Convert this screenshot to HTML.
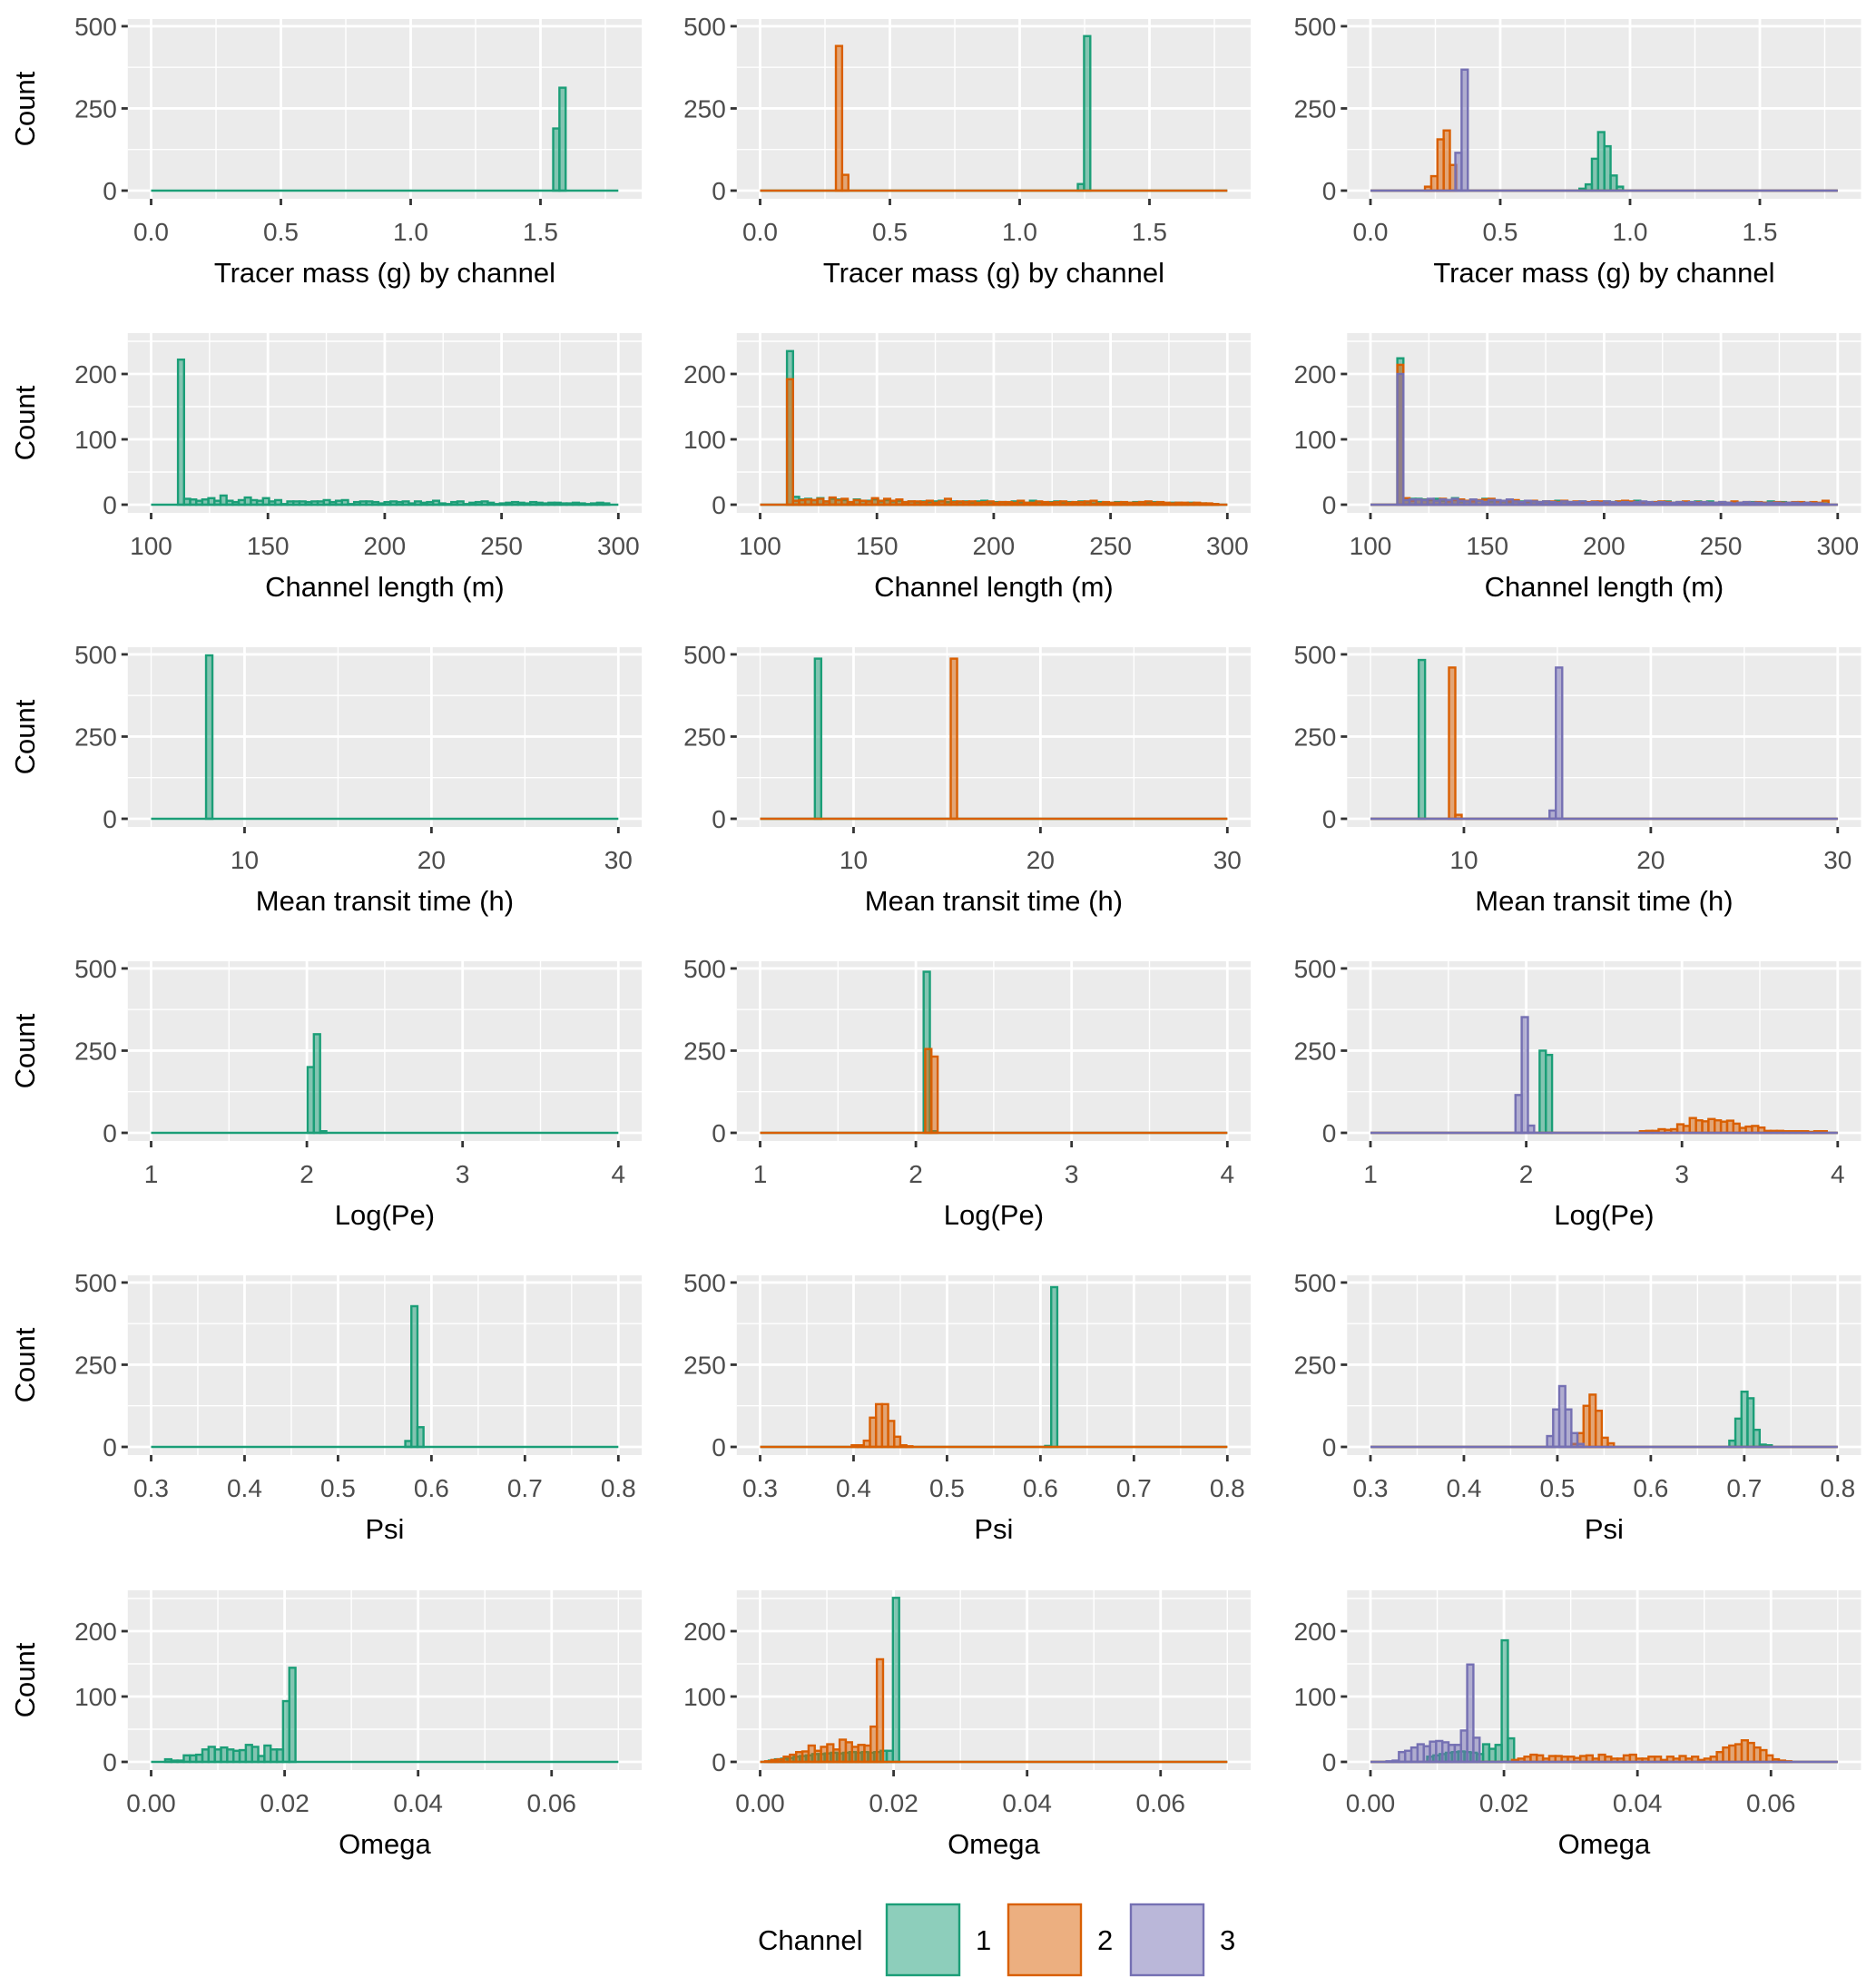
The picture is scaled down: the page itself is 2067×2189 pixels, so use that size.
<!DOCTYPE html>
<html><head><meta charset="utf-8"><style>
html,body{margin:0;padding:0;background:#fff;}
svg{display:block;font-family:"Liberation Sans",Arial,sans-serif;}
</style></head><body>
<svg id="fig" width="2067" height="2189" viewBox="0 0 2067 2189" xmlns="http://www.w3.org/2000/svg"></svg>
<script>
// ---- data (bin start, counts) ----
const massA1Start = 1.549; const massA1 = [189,313];
const massB1Start = 1.224; const massB1 = [20,470];
const massB2Start = 0.292; const massB2 = [440,48];
const massC1Start = 0.805; const massC1 = [6,19,97,178,135,46,12];
const massC2Start = 0.210; const massC2 = [12,44,156,183,78];
const massC3Start = 0.327; const massC3 = [115,368];

const lenA1Start = 111.5; const lenA1 = [222,9,8,6,8,10,6,14,6,4,7,11,7,6,10,5,7,1,5,5,5,4,5,5,7,4,6,7,1,4,5,5,4,2,4,5,4,5,2,5,3,4,6,2,1,4,5,1,3,4,5,3,1,2,3,4,3,2,4,3,2,3,3,2,2,3,2,1,2,3,2];
const lenB1Start = 111.5; const lenB1 = [235,12,8,9,7,10,5,9,8,7,4,8,6,6,8,5,7,5,6,4,5,4,5,4,5,6,4,5,4,5,3,5,6,3,4,4,3,5,3,3,6,4,3,4,5,3,4,3,5,4,2,4,3,3,4,3,3,4,4,3,4,3,2,3,3,2,3,2,2,1,1];
const lenB2Start = 111.5; const lenB2 = [192,6,7,8,7,9,5,11,7,9,4,7,6,5,10,6,9,6,8,4,5,5,4,6,3,5,9,4,5,4,5,3,4,5,3,4,4,3,6,3,3,5,4,3,4,5,3,4,4,5,6,2,4,3,3,4,3,3,4,5,3,4,3,2,3,3,2,3,2,2,1];
const lenC1Start = 111.5; const lenC1 = [224,8,9,9,8,7,9,6,7,10,5,6,7,6,9,5,6,5,4,6,5,4,5,4,5,3,6,5,4,4,5,3,4,3,5,4,5,4,3,6,4,3,4,4,5,3,4,3,4,5,3,5,3,4,3,4,3,2,4,3,3,5,3,4,3,2,3,2,3,2,2];
const lenC2Start = 111.5; const lenC2 = [214,10,6,8,7,8,6,9,5,7,8,6,5,7,8,9,5,6,5,7,4,5,6,4,5,5,4,6,4,5,3,4,5,5,4,3,5,6,5,3,4,3,4,5,4,3,4,5,3,4,4,3,3,4,3,5,3,4,3,4,3,3,4,3,3,4,4,3,4,3,6];
const lenC3Start = 111.5; const lenC3 = [200,7,8,8,7,9,6,8,7,9,6,5,8,6,4,7,7,6,8,5,4,6,5,4,5,4,3,5,4,4,5,3,4,3,5,4,3,4,3,4,5,4,3,4,3,3,4,3,4,3,4,3,3,4,3,2,3,4,3,3,2,3,3,2,3,3,2,3,2,2,1];

const mttA1Start = 7.94; const mttA1 = [497];
const mttB1Start = 7.93; const mttB1 = [487];
const mttB2Start = 15.2; const mttB2 = [487];
const mttC1Start = 7.58; const mttC1 = [483];
const mttC2Start = 9.2; const mttC2 = [460,12];
const mttC3Start = 14.58; const mttC3 = [25,460];

const peA1Start = 2.005; const peA1 = [200,300,5];
const peB1Start = 2.05; const peB1 = [490,5];
const peB2Start = 2.06; const peB2 = [255,232];
const peC1Start = 2.086; const peC1 = [250,237];
const peC2Start = 2.73; const peC2 = [5,6,6,11,9,11,26,21,45,38,35,42,38,34,37,28,15,19,21,16,6,6,6,5,5,5,5,3,5,5];
const peC3Start = 1.931; const peC3 = [115,352,22];

const psiA1Start = 0.572; const psiA1 = [18,428,60];
const psiB1Start = 0.605; const psiB1 = [3,486];
const psiB2Start = 0.398; const psiB2 = [5,5,19,89,130,130,79,31,5,2];
const psiC1Start = 0.684; const psiC1 = [19,86,168,148,52,7,5];
const psiC2Start = 0.515; const psiC2 = [9,42,125,159,110,28,11];
const psiC3Start = 0.489; const psiC3 = [33,114,185,114,42,9];

const omA1Start = 0.0021; const omA1 = [4,2,2,10,10,11,19,23,19,22,19,17,18,26,23,9,25,19,19,93,144];
const omB1Start = 0.0013; const omB1 = [2,4,5,6,8,9,10,12,12,13,14,13,14,15,14,15,14,15,17,17,251];
const omB2Start = 0.00075; const omB2 = [1,3,4,8,11,15,16,25,17,23,27,19,34,30,23,26,25,54,157];
const omC1Start = 0.0085; const omC1 = [8,10,12,14,15,16,15,14,12,27,20,26,186,36];
const omC2Start = 0.0212; const omC2 = [3,5,8,11,10,5,9,9,8,8,6,9,10,5,11,8,5,5,10,11,5,5,8,8,3,8,5,9,5,8,3,5,8,15,22,25,27,33,29,22,18,10,4,2,1];
const omC3Start = 0.0024; const omC3 = [1,2,15,17,22,27,24,31,32,30,26,26,48,149,37];

// ---- axis definitions ----
const rowTitles = ["Tracer mass (g) by channel","Channel length (m)","Mean transit time (h)","Log(Pe)","Psi","Omega"];
const rowXMin = [0,100,5,1,0.3,0];
const rowXMax = [1.8,300,30,4,0.8,0.07];
const rowBinW = [0.024,2.6,0.34,0.04,0.0065,0.00093];
const rowYMax = [497,250,497,497,497,250];
const xTicks = [[0,0.5,1,1.5],[100,150,200,250,300],[10,20,30],[1,2,3,4],[0.3,0.4,0.5,0.6,0.7,0.8],[0,0.02,0.04,0.06]];
const xTickLabels = [["0.0","0.5","1.0","1.5"],["100","150","200","250","300"],["10","20","30"],["1","2","3","4"],["0.3","0.4","0.5","0.6","0.7","0.8"],["0.00","0.02","0.04","0.06"]];
const xMinor = [[0.25,0.75,1.25,1.75],[125,175,225,275],[5,15,25],[1.5,2.5,3.5],[0.35,0.45,0.55,0.65,0.75],[0.01,0.03,0.05,0.07]];
const yTicksBig = [0,250,500]; const yMinorBig = [125,375];
const yTicksSmall = [0,100,200]; const yMinorSmall = [50,150,250];

const seriesGrid = [
 [[[massA1Start,massA1]],[[massB1Start,massB1],[massB2Start,massB2]],[[massC1Start,massC1],[massC2Start,massC2],[massC3Start,massC3]]],
 [[[lenA1Start,lenA1]],[[lenB1Start,lenB1],[lenB2Start,lenB2]],[[lenC1Start,lenC1],[lenC2Start,lenC2],[lenC3Start,lenC3]]],
 [[[mttA1Start,mttA1]],[[mttB1Start,mttB1],[mttB2Start,mttB2]],[[mttC1Start,mttC1],[mttC2Start,mttC2],[mttC3Start,mttC3]]],
 [[[peA1Start,peA1]],[[peB1Start,peB1],[peB2Start,peB2]],[[peC1Start,peC1],[peC2Start,peC2],[peC3Start,peC3]]],
 [[[psiA1Start,psiA1]],[[psiB1Start,psiB1],[psiB2Start,psiB2]],[[psiC1Start,psiC1],[psiC2Start,psiC2],[psiC3Start,psiC3]]],
 [[[omA1Start,omA1]],[[omB1Start,omB1],[omB2Start,omB2]],[[omC1Start,omC1],[omC2Start,omC2],[omC3Start,omC3]]]
];
const strokeCols = ["#1b9e77","#d95f02","#7570b3"];
const fillCols = ["rgba(27,158,119,0.5)","rgba(217,95,2,0.5)","rgba(117,112,179,0.5)"];

// ---- layout ----
const NS = "http://www.w3.org/2000/svg";
const svg = document.getElementById("fig");
const colX0 = [166.5, 837.5, 1510];
const dataW = 514.8, expandPx = 25.7;
const rowY0 = [210, 556, 902, 1248, 1594, 1941];
const topOff = 189, botOff = 9;

function mk(tag, attrs, parent){
  const e = document.createElementNS(NS, tag);
  for (const k in attrs) e.setAttribute(k, attrs[k]);
  (parent||svg).appendChild(e);
  return e;
}

for (let r=0; r<6; r++){
  const y0 = rowY0[r];
  const k = topOff/(1.05*rowYMax[r]);
  const yS = v => y0 - v*k;
  const yT = rowYMax[r] > 300 ? yTicksBig : yTicksSmall;
  const yM = rowYMax[r] > 300 ? yMinorBig : yMinorSmall;
  for (let c=0; c<3; c++){
    const x0 = colX0[c];
    const xS = v => x0 + (v-rowXMin[r])/(rowXMax[r]-rowXMin[r])*dataW;
    const left = x0-expandPx, right = x0+dataW+expandPx, top = y0-topOff, bot = y0+botOff;
    const g = mk("g", {});
    
    
    const bg = mk("rect",{x:left,y:top,width:right-left,height:bot-top,fill:"#ebebeb"},g);
    
    
    xMinor[r].forEach(v=>{ const x=xS(v); if(x>left&&x<right) mk("line",{x1:x,x2:x,y1:top,y2:bot,stroke:"#fff","stroke-width":1.4},g); });
    yM.forEach(v=>{ const y=yS(v); if(y>top&&y<bot) mk("line",{x1:left,x2:right,y1:y,y2:y,stroke:"#fff","stroke-width":1.4},g); });
    xTicks[r].forEach(v=>{ const x=xS(v); mk("line",{x1:x,x2:x,y1:top,y2:bot,stroke:"#fff","stroke-width":2.8},g); });
    yT.forEach(v=>{ const y=yS(v); mk("line",{x1:left,x2:right,y1:y,y2:y,stroke:"#fff","stroke-width":2.8},g); });
    const ser = seriesGrid[r][c];
    ser.forEach((s,si)=>{
      const sg = mk("g",{},g);
      
      
      mk("line",{x1:xS(rowXMin[r]),x2:xS(rowXMax[r]),y1:y0,y2:y0,stroke:strokeCols[si],"stroke-width":2.6},sg);
      const start = s[0], counts = s[1], bw = rowBinW[r];
      counts.forEach((n,i)=>{
        if(n<=0) return;
        const xa = xS(start+i*bw), xb = xS(start+(i+1)*bw);
        const b = mk("rect",{x:xa,y:yS(n),width:xb-xa,height:y0-yS(n),fill:fillCols[si],stroke:strokeCols[si],"stroke-width":2.4},sg);
        
        
      });
    });
    xTicks[r].forEach((v,i)=>{
      const x=xS(v);
      mk("line",{x1:x,x2:x,y1:bot,y2:bot+7,stroke:"#333","stroke-width":2.8},g);
      const t = mk("text",{x:x,y:bot+46,"text-anchor":"middle","font-size":28,fill:"#4d4d4d"},g);
      t.textContent = xTickLabels[r][i];
      
      
    });
    yT.forEach(v=>{
      const y=yS(v);
      mk("line",{x1:left-7,x2:left,y1:y,y2:y,stroke:"#333","stroke-width":2.8},g);
      const t = mk("text",{x:left-12,y:y+10,"text-anchor":"end","font-size":28,fill:"#4d4d4d"},g);
      t.textContent = String(v);
      
      
    });
    const xt = mk("text",{x:(left+right)/2,y:bot+92,"text-anchor":"middle","font-size":31,fill:"#000"},g);
    xt.textContent = rowTitles[r];
    
    
    if(c===0){
      const yc = (top+bot)/2;
      const yt = mk("text",{x:38,y:yc,"text-anchor":"middle","font-size":31,fill:"#000",transform:"rotate(-90 38 "+yc+")"},g);
      yt.textContent = "Count";
      
      
    }
  }
}
const lg = mk("g",{});


const lt = mk("text",{x:835,y:2148,"font-size":31,fill:"#000"},lg);
lt.textContent = "Channel";


const keyX = [977,1111,1246];
["1","2","3"].forEach((lab,i)=>{
  const kr = mk("rect",{x:keyX[i],y:2098,width:80,height:78,fill:fillCols[i],stroke:strokeCols[i],"stroke-width":2.4},lg);
  
  
  const tx = mk("text",{x:keyX[i]+98,y:2148,"font-size":31,fill:"#000"},lg);
  tx.textContent = lab;
  
  
});
</script>
</body></html>
